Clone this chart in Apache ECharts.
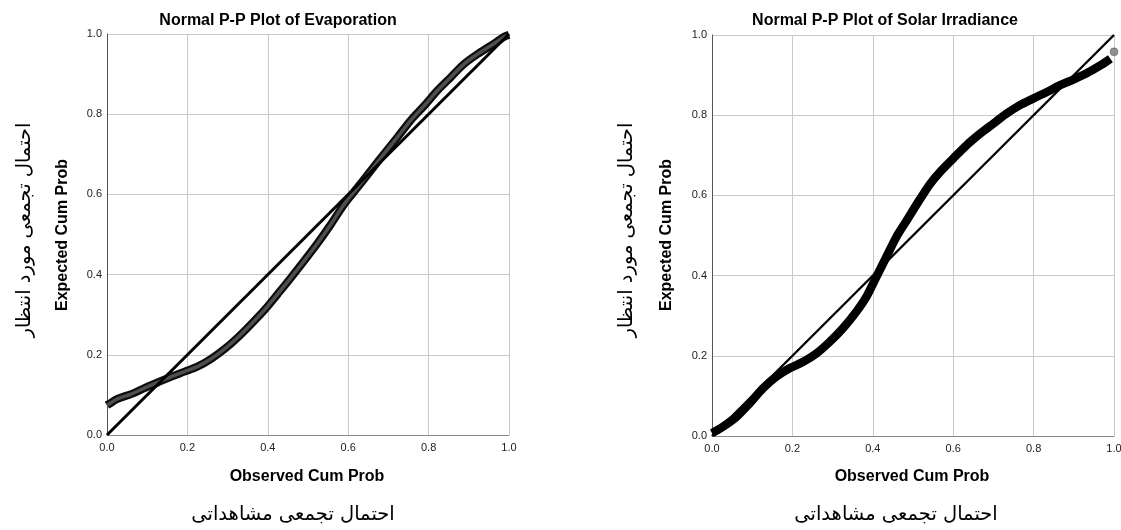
<!DOCTYPE html>
<html>
<head>
<meta charset="utf-8">
<script src="https://cdn.jsdelivr.net/npm/echarts@6/dist/echarts.min.js"></script>
<style>
  html, body { margin: 0; padding: 0; background: #fff; }
  #chart { width: 1121px; height: 530px; }
</style>
</head>
<body>
<div id="chart"></div>
<script>
// Normal P-P plot of Evaporation: observed vs. expected cumulative probability
const evapObserved = [0.000, 0.003, 0.026, 0.060, 0.093, 0.126, 0.159, 0.193, 0.226, 0.259, 0.292,
  0.325, 0.359, 0.392, 0.425, 0.458, 0.491, 0.523, 0.556, 0.589, 0.623, 0.656, 0.689, 0.722,
  0.755, 0.789, 0.822, 0.855, 0.888, 0.922, 0.955, 0.988, 1.000];
const evapExpected = [0.074, 0.076, 0.090, 0.102, 0.117, 0.131, 0.145, 0.158, 0.171, 0.190, 0.214,
  0.243, 0.277, 0.312, 0.352, 0.393, 0.435, 0.477, 0.524, 0.574, 0.617, 0.659, 0.701, 0.742,
  0.784, 0.821, 0.859, 0.892, 0.925, 0.950, 0.971, 0.993, 0.998];

// Normal P-P plot of Solar Irradiance
const solarObserved = [0.000, 0.027, 0.061, 0.094, 0.127, 0.160, 0.193, 0.227, 0.260, 0.293, 0.326,
  0.359, 0.384, 0.409, 0.434, 0.459, 0.484, 0.517, 0.542, 0.567, 0.600, 0.633, 0.667, 0.700,
  0.733, 0.766, 0.800, 0.833, 0.866, 0.899, 0.933, 0.966, 0.991];
const solarExpected = [0.007, 0.023, 0.048, 0.082, 0.119, 0.148, 0.169, 0.185, 0.206, 0.235, 0.269,
  0.310, 0.347, 0.397, 0.447, 0.497, 0.537, 0.590, 0.628, 0.658, 0.692, 0.725, 0.754, 0.779,
  0.804, 0.825, 0.842, 0.858, 0.875, 0.889, 0.905, 0.924, 0.941];
// last (highest) observation of Solar Irradiance
const solarLastObserved = [1.000];
const solarLastExpected = [0.958];

// reference diagonal (expected = observed)
const diagonalPoints = [[0, 0], [1, 1]];

// axis ticks
const tickMin = 0, tickMax = 1, tickStep = 0.2;

const titles = ['Normal P-P Plot of Evaporation', 'Normal P-P Plot of Solar Irradiance'];
const xTitle = 'Observed Cum Prob';
const yTitle = 'Expected Cum Prob';
const xTitleFa = 'احتمال تجمعی مشاهداتی';
const yTitleFa = 'احتمال تجمعی مورد انتظار';

const pairs = (xs, ys) => xs.map((x, i) => [x, ys[i]]);

const LATIN = "'Liberation Sans', Arial, sans-serif";
const PERSIAN = "'DejaVu Sans', 'Noto Sans', sans-serif";

function makeX(gridIndex) {
  return {
    type: 'value', gridIndex, min: tickMin, max: tickMax, interval: tickStep,
    axisLine: { show: true, lineStyle: { color: '#8a8a8a', width: 1 } },
    axisTick: { show: false },
    axisLabel: { color: '#222', fontSize: 11, fontFamily: LATIN, margin: 7,
      formatter: v => v.toFixed(1) },
    splitLine: { show: true, lineStyle: { color: '#c9c9c9', width: 1 } }
  };
}
function makeY(gridIndex) {
  return {
    type: 'value', gridIndex, min: tickMin, max: tickMax, interval: tickStep,
    axisLine: { show: true, lineStyle: { color: '#555', width: 1 } },
    axisTick: { show: false },
    axisLabel: { color: '#222', fontSize: 11, fontFamily: LATIN, margin: 5,
      formatter: v => v.toFixed(1) },
    splitLine: { show: true, lineStyle: { color: '#c9c9c9', width: 1 } }
  };
}

function text(x, y, str, font, rotate) {
  return {
    type: 'text', x, y, rotation: rotate ? Math.PI / 2 : 0,
    style: { text: str, font, fill: '#000', align: 'center', verticalAlign: 'middle' }
  };
}

const chart = echarts.init(document.getElementById('chart'), null, { renderer: 'canvas' });
chart.setOption({
  animation: false,
  backgroundColor: '#fff',
  grid: [
    { left: 107, top: 34, width: 402, height: 401, containLabel: false, outerBoundsMode: 'none' },
    { left: 712, top: 35, width: 402, height: 401, containLabel: false, outerBoundsMode: 'none' }
  ],
  xAxis: [makeX(0), makeX(1)],
  yAxis: [makeY(0), makeY(1)],
  series: [
    // Evaporation: dense band of observations (dark edge, grey core)
    { type: 'line', xAxisIndex: 0, yAxisIndex: 0, data: pairs(evapObserved, evapExpected),
      smooth: 0.3, symbol: 'none', lineStyle: { color: '#0d0d0d', width: 8 }, z: 2 },
    { type: 'line', xAxisIndex: 0, yAxisIndex: 0, data: pairs(evapObserved, evapExpected),
      smooth: 0.3, symbol: 'none', lineStyle: { color: '#4e4e4e', width: 3.5 }, z: 3 },
    { type: 'line', xAxisIndex: 0, yAxisIndex: 0, data: diagonalPoints,
      symbol: 'none', lineStyle: { color: '#000', width: 3 }, z: 4 },

    // Solar Irradiance
    { type: 'line', xAxisIndex: 1, yAxisIndex: 1, data: pairs(solarObserved, solarExpected),
      smooth: 0.3, symbol: 'none', lineStyle: { color: '#000', width: 8.5 }, z: 2 },
    { type: 'scatter', xAxisIndex: 1, yAxisIndex: 1, data: pairs(solarLastObserved, solarLastExpected),
      symbol: 'circle', symbolSize: 8, itemStyle: { color: '#777', borderColor: '#444', borderWidth: 0.5 },
      clip: false, z: 3 },
    { type: 'line', xAxisIndex: 1, yAxisIndex: 1, data: diagonalPoints,
      symbol: 'none', lineStyle: { color: '#000', width: 2.4 }, z: 4 }
  ],
  graphic: [
    text(278, 20.5, titles[0], `bold 16px ${LATIN}`),
    text(885, 20.5, titles[1], `bold 16px ${LATIN}`),
    text(307, 477, xTitle, `bold 16px ${LATIN}`),
    text(912, 477, xTitle, `bold 16px ${LATIN}`),
    text(63, 235, yTitle, `bold 16px ${LATIN}`, true),
    text(667, 235, yTitle, `bold 16px ${LATIN}`, true),
    text(293, 515, xTitleFa, `19.5px ${PERSIAN}`),
    text(896, 515, xTitleFa, `19.5px ${PERSIAN}`),
    text(25, 230, yTitleFa, `19.5px ${PERSIAN}`, true),
    text(627, 230, yTitleFa, `19.5px ${PERSIAN}`, true)
  ]
});
</script>
</body>
</html>
